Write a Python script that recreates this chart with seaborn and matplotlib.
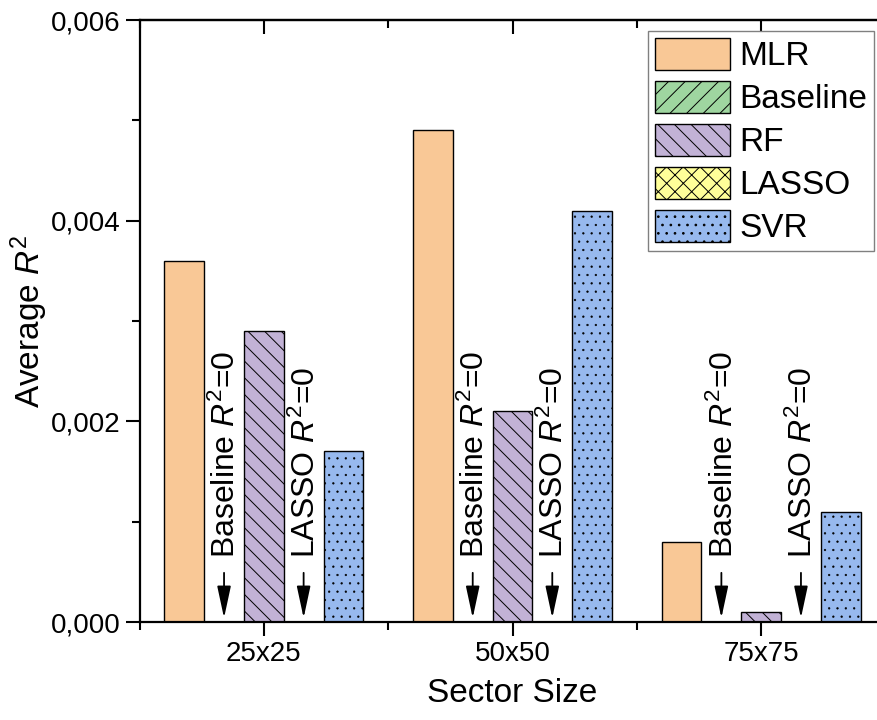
import pandas as pd
import seaborn as sns
import matplotlib.pyplot as plt
import matplotlib.ticker as mticker

# Dados
sizes = ['25x25', '50x50', '75x75']
models = ['MLR', 'Baseline', 'RF', 'LASSO', 'SVR']
mlr = [0.0036, 0.0049, 0.0008]
baseline = [0.0, 0.0, 0.0]
rf = [0.0029, 0.0021, 0.0001]
lasso = [0.0, 0.0, 0.0]
svr = [0.0017, 0.0041, 0.0011]

colors = ['#F9C896', '#9FD6A0', '#C2B2D6', '#FFFF99', '#97B9EE']
hatches = ['', '//', '\\\\', 'xx', '..']

values = {'MLR': mlr, 'Baseline': baseline, 'RF': rf, 'LASSO': lasso, 'SVR': svr}
rows = []
for m in models:
    for s, v in zip(sizes, values[m]):
        rows.append({'size': s, 'model': m, 'r2': v})
df = pd.DataFrame(rows)

sns.set_style('ticks')
plt.rcParams['font.family'] = ['Liberation Sans', 'DejaVu Sans']
plt.rcParams['mathtext.fontset'] = 'custom'
plt.rcParams['mathtext.rm'] = 'Liberation Sans'
plt.rcParams['mathtext.it'] = 'Liberation Sans:italic'
plt.rcParams['hatch.linewidth'] = 0.7
plt.rcParams['hatch.color'] = 'black'
for k in ['text.color', 'axes.labelcolor', 'xtick.color', 'ytick.color', 'axes.edgecolor']:
    plt.rcParams[k] = 'black'

fig = plt.figure(figsize=(8.78, 7.2), dpi=100)
ax = fig.add_axes([139.5 / 878, 98 / 720, 746 / 878, 602 / 720])

sns.barplot(data=df, x='size', y='r2', hue='model', hue_order=models,
            palette=colors, width=0.8, edgecolor='black', linewidth=1.0,
            saturation=1, legend=False, ax=ax)

for cont, h in zip(ax.containers, hatches):
    for p in cont:
        p.set_hatch(h)
        if h == '..' and hasattr(p, 'set_hatch_linewidth'):
            p.set_hatch_linewidth(0.4)

# Anotações para Baseline e LASSO (R² = 0)
for idx, name in [(1, 'Baseline'), (3, 'LASSO')]:
    for p in ax.containers[idx]:
        x = p.get_x() + p.get_width() / 2
        ax.text(x + 0.01, 0.00064, name + ' $R^2$=0', rotation=90, ha='center',
                va='bottom', fontsize=23)
        ax.annotate('', xy=(x, 0.00004), xytext=(x, 0.00049),
                    arrowprops=dict(arrowstyle='-|>,head_length=1.4,head_width=0.3',
                                    color='black', lw=1.3, mutation_scale=14,
                                    shrinkA=0, shrinkB=0))

ax.set_xlim(-0.5, 2.5)
ax.set_ylim(0, 0.006)
ax.yaxis.set_major_locator(mticker.MultipleLocator(0.002))
ax.yaxis.set_minor_locator(mticker.MultipleLocator(0.001))
ax.yaxis.set_major_formatter(mticker.FuncFormatter(lambda v, p: f'{v:.3f}'.replace('.', ',')))
ax.xaxis.set_minor_locator(mticker.FixedLocator([-0.5, 0.5, 1.5, 2.5]))

for s in ax.spines.values():
    s.set_visible(True)
    s.set_linewidth(1.6)

ax.tick_params(axis='both', which='major', labelsize=20, width=1.5, length=10)
ax.tick_params(axis='both', which='minor', width=1.5, length=6)
ax.tick_params(axis='x', which='both', direction='out', top=False)
ax.tick_params(axis='y', which='both', direction='out', right=False)

# ticks internos no topo
sec = ax.secondary_xaxis('top')
sec.set_xticks([0, 1, 2])
sec.set_xticks([-0.5, 0.5, 1.5, 2.5], minor=True)
sec.tick_params(which='major', direction='in', length=10, width=1.5, labeltop=False)
sec.tick_params(which='minor', direction='in', length=6, width=1.5)
sec.spines['top'].set_linewidth(1.6)

ax.set_xlabel('Sector Size', fontsize=24, labelpad=8)
ax.set_ylabel('Average $R^2$', fontsize=24, labelpad=1)

handles = [c for c in ax.containers]
leg = fig.legend(handles, models, loc='upper left',
                 bbox_to_anchor=(648 / 878, 1 - 31 / 720), fontsize=24,
                 frameon=True, fancybox=False, framealpha=1, edgecolor='#808080',
                 handlelength=2.25, handleheight=1.1, handletextpad=0.3,
                 labelspacing=0.26, borderpad=0.2, borderaxespad=0)
leg.get_frame().set_linewidth(1.0)

plt.savefig('out.png', dpi=100)
